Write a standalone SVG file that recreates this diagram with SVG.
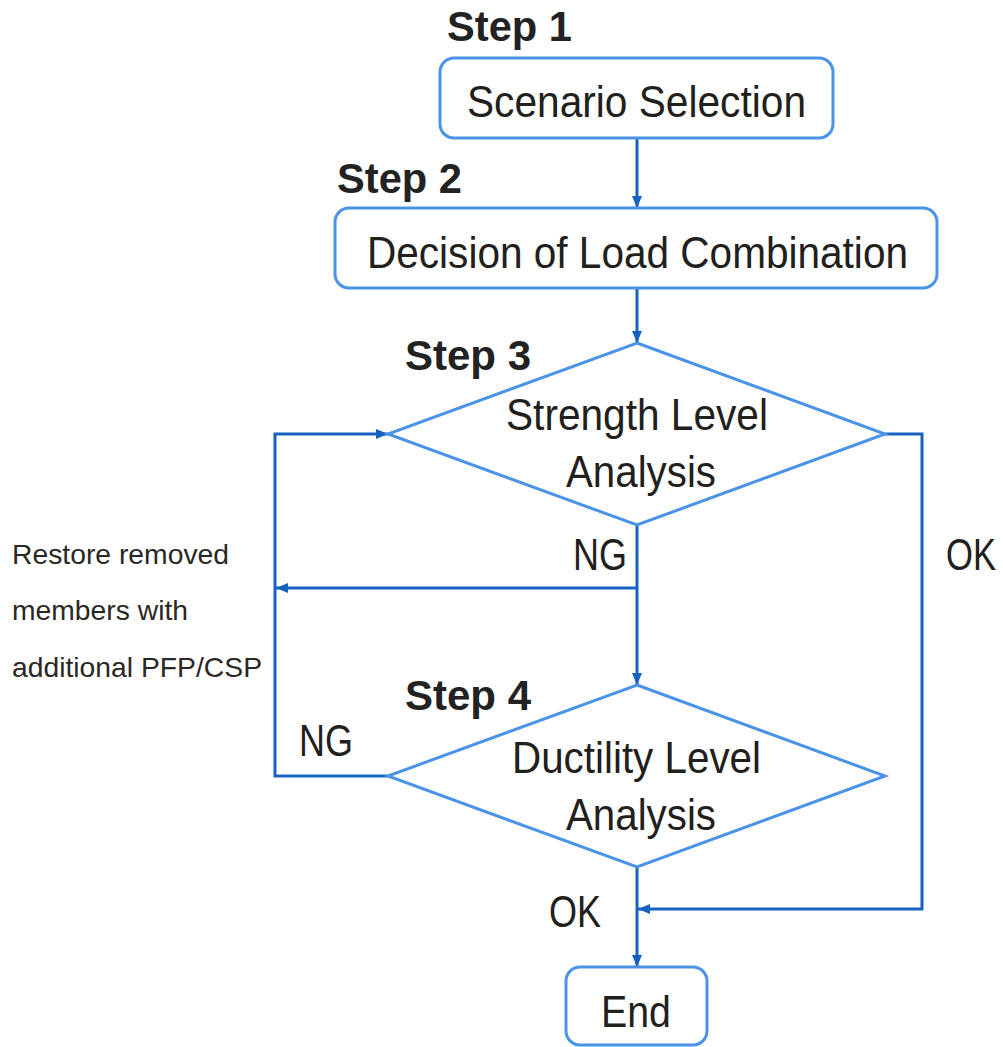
<svg xmlns="http://www.w3.org/2000/svg" width="1003" height="1047" viewBox="0 0 1003 1047">
  <defs>
    <marker id="arrow" viewBox="0 0 12 10" refX="12" refY="5" markerWidth="12" markerHeight="10" markerUnits="userSpaceOnUse" orient="auto">
      <path d="M0,0 L12,5 L0,10 Z" fill="#1762c0"/>
    </marker>
    <style>
      .shape { fill: #ffffff; stroke: #4a93e6; stroke-width: 3; }
      .link { fill: none; stroke: #1762c0; stroke-width: 3; }
      .label { font-family: "Liberation Sans", Arial, sans-serif; font-size: 44px; fill: #22201c; }
      .step { font-family: "Liberation Sans", Arial, sans-serif; font-size: 42px; font-weight: bold; fill: #222222; }
      .note { font-family: "Liberation Sans", Arial, sans-serif; font-size: 28px; fill: #2a2824; }
    </style>
  </defs>
  <rect width="1003" height="1047" fill="#ffffff"/>

  <!-- connectors -->
  <g id="connectors">
    <line class="link" x1="637" y1="138" x2="637" y2="208" marker-end="url(#arrow)"/>
    <line class="link" x1="637" y1="288" x2="637" y2="343" marker-end="url(#arrow)"/>
    <line class="link" x1="637" y1="525" x2="637" y2="685" marker-end="url(#arrow)"/>
    <line class="link" x1="637" y1="588" x2="276" y2="588" marker-end="url(#arrow)"/>
    <path class="link" d="M388,776 H275 V434 H388" marker-end="url(#arrow)"/>
    <path class="link" d="M885,434 H922 V909 H638" marker-end="url(#arrow)"/>
    <line class="link" x1="637" y1="867" x2="637" y2="967" marker-end="url(#arrow)"/>
    <text class="label" x="573" y="570" textLength="54" lengthAdjust="spacingAndGlyphs">NG</text>
    <text class="label" x="299" y="756" textLength="54" lengthAdjust="spacingAndGlyphs">NG</text>
    <text class="label" x="946" y="570" textLength="50" lengthAdjust="spacingAndGlyphs">OK</text>
    <text class="label" x="549" y="927" textLength="52" lengthAdjust="spacingAndGlyphs">OK</text>
    <text class="note" x="12" y="564" textLength="217" lengthAdjust="spacingAndGlyphs">Restore removed</text>
    <text class="note" x="12" y="620" textLength="176" lengthAdjust="spacingAndGlyphs">members with</text>
    <text class="note" x="12" y="677" textLength="250" lengthAdjust="spacingAndGlyphs">additional PFP/CSP</text>
  </g>

  <!-- Step 1 -->
  <g id="step1">
    <text class="step" x="447" y="41" textLength="125" lengthAdjust="spacingAndGlyphs">Step 1</text>
    <rect class="shape" x="440" y="58" width="393" height="80" rx="14"/>
    <text class="label" x="467" y="117" textLength="339" lengthAdjust="spacingAndGlyphs">Scenario Selection</text>
  </g>

  <!-- Step 2 -->
  <g id="step2">
    <text class="step" x="337" y="193" textLength="125" lengthAdjust="spacingAndGlyphs">Step 2</text>
    <rect class="shape" x="335" y="208" width="602" height="80" rx="14"/>
    <text class="label" x="367" y="268" textLength="541" lengthAdjust="spacingAndGlyphs">Decision of Load Combination</text>
  </g>

  <!-- Step 3 -->
  <g id="step3">
    <text class="step" x="405" y="370" textLength="126" lengthAdjust="spacingAndGlyphs">Step 3</text>
    <polygon class="shape" points="637,343 885,434 637,525 388,434"/>
    <text class="label" x="506" y="430" textLength="262" lengthAdjust="spacingAndGlyphs">Strength Level</text>
    <text class="label" x="566" y="487" textLength="150" lengthAdjust="spacingAndGlyphs">Analysis</text>
  </g>

  <!-- Step 4 -->
  <g id="step4">
    <text class="step" x="405" y="710" textLength="126" lengthAdjust="spacingAndGlyphs">Step 4</text>
    <polygon class="shape" points="637,685 885,776 637,867 388,776"/>
    <text class="label" x="512" y="773" textLength="249" lengthAdjust="spacingAndGlyphs">Ductility Level</text>
    <text class="label" x="566" y="830" textLength="150" lengthAdjust="spacingAndGlyphs">Analysis</text>
  </g>

  <!-- End -->
  <g id="end">
    <rect class="shape" x="566" y="967" width="141" height="78" rx="14"/>
    <text class="label" x="601" y="1027" textLength="70" lengthAdjust="spacingAndGlyphs">End</text>
  </g>
</svg>
